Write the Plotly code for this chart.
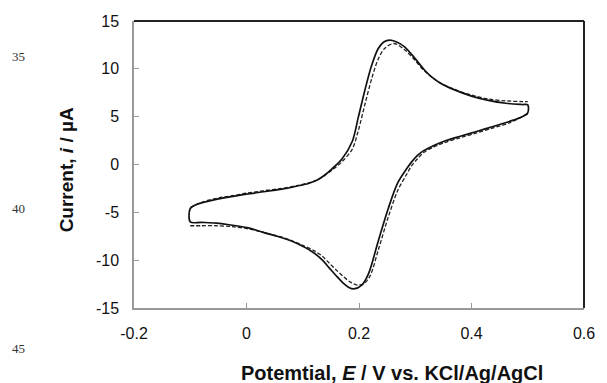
import plotly.graph_objects as go

# Solid curve (potential E / V, current i / uA)
solid_E = [-0.1, -0.1, -0.09, -0.077, -0.05, -0.024, 0.0, 0.03, 0.063, 0.09, 0.11, 0.125, 0.138, 0.153, 0.17,
           0.188, 0.199, 0.211, 0.2227, 0.234, 0.244, 0.2546, 0.265, 0.281, 0.298, 0.316, 0.33, 0.345, 0.37,
           0.4, 0.43, 0.461, 0.49, 0.5, 0.5,
           0.49, 0.467, 0.44, 0.409, 0.38, 0.35, 0.33, 0.315, 0.304, 0.294, 0.284, 0.269, 0.252,
           0.234, 0.217, 0.205, 0.1906, 0.182, 0.172, 0.159, 0.147, 0.135, 0.12, 0.1, 0.08, 0.063,
           0.03, 0.005, -0.025, -0.054, -0.08, -0.1]
solid_I = [-6.0, -4.6, -4.2, -3.97, -3.6, -3.34, -3.1, -2.85, -2.58, -2.25, -1.98, -1.65, -1.15, -0.4, 0.6,
           2.4, 5.0, 7.9, 10.4, 12.1, 12.8, 13.0, 12.85, 12.3, 11.2, 9.9, 9.1, 8.5, 7.8,
           7.15, 6.7, 6.4, 6.27, 6.24, 5.4,
           5.0, 4.5, 4.0, 3.45, 2.95, 2.4, 1.9, 1.45, 0.95, 0.3, -0.5, -1.9, -4.6,
           -8.05, -11.4, -12.6, -13.0, -12.85, -12.4, -11.6, -10.8, -10.0, -9.25, -8.55, -8.0, -7.65,
           -7.1, -6.65, -6.35, -6.13, -6.05, -6.0]

# Dashed curve (forward and reverse branches)
dash_E = [-0.1, -0.077, -0.05, -0.024, 0.0, 0.03, 0.063, 0.09, 0.11, 0.125, 0.138, 0.153, 0.17, 0.188, 0.199,
          0.211, 0.2227, 0.234, 0.245, 0.262, 0.281, 0.298, 0.316, 0.345, 0.37, 0.4, 0.43, 0.461,
          0.49, 0.5]
dash_I = [-4.5, -3.9, -3.5, -3.25, -3.0, -2.75, -2.5, -2.2, -1.93, -1.62, -1.2, -0.55, 0.3, 1.6, 3.6,
          6.4, 9.0, 11.0, 12.1, 12.65, 12.0, 11.0, 9.8, 8.5, 7.85, 7.25, 6.85, 6.65,
          6.58, 6.58]
dash2_E = [0.5, 0.467, 0.44, 0.409, 0.38, 0.35, 0.33, 0.315, 0.304, 0.294, 0.284, 0.269, 0.252,
           0.234, 0.22, 0.21, 0.197, 0.185, 0.172, 0.159, 0.147, 0.135, 0.12, 0.1, 0.08, 0.063,
           0.03, 0.005, -0.025, -0.054, -0.08, -0.1]
dash2_I = [5.3, 4.35, 3.85, 3.3, 2.8, 2.25, 1.75, 1.25, 0.6, -0.1, -1.1, -2.7, -5.5,
           -9.0, -11.6, -12.4, -12.6, -12.3, -11.7, -11.0, -10.3, -9.6, -9.0, -8.45, -7.95, -7.6,
           -7.1, -6.75, -6.5, -6.4, -6.4, -6.4]

x_ticks = [-0.2, 0, 0.2, 0.4, 0.6]
x_ticktext = ["-0.2", "0", "0.2", "0.4", "0.6"]
y_ticks = [-15, -10, -5, 0, 5, 10, 15]
y_ticktext = ["-15", "-10", "-5", "0", "5", "10", "15"]
line_numbers = ["35", "40", "45"]

dash_style = dict(color="#222", width=1.3, dash="4px,2px", shape="spline", smoothing=0.9)
fig = go.Figure()
fig.add_trace(go.Scatter(x=dash_E, y=dash_I, mode="lines", line=dash_style, hoverinfo="skip"))
fig.add_trace(go.Scatter(x=dash2_E, y=dash2_I, mode="lines", line=dash_style, hoverinfo="skip"))
fig.add_trace(go.Scatter(x=solid_E, y=solid_I, mode="lines", hoverinfo="skip",
                         line=dict(color="#111", width=1.7, shape="spline", smoothing=0.9)))

W, H = 607, 383
L, R, T, B = 134, 14, 21, 75
pw, ph = W - L - R, H - T - B
FONT = "Liberation Sans, Arial, sans-serif"

fig.update_layout(
    width=W, height=H, showlegend=False,
    margin=dict(l=L, r=R, t=T, b=B),
    paper_bgcolor="white", plot_bgcolor="white",
    font=dict(family=FONT, color="#111"),
    xaxis=dict(range=[-0.2, 0.6], tickvals=x_ticks, ticktext=x_ticktext, showgrid=False,
               zeroline=False, showline=True, linecolor="#999", linewidth=1.5,
               ticks="inside", ticklen=5, tickcolor="#999", tickwidth=1.2,
               tickfont=dict(size=16), ticklabelstandoff=10),
    yaxis=dict(range=[-15, 15], tickvals=y_ticks, ticktext=y_ticktext, showgrid=False,
               zeroline=False, showline=True, linecolor="#999", linewidth=1.5,
               ticks="inside", ticklen=5, tickcolor="#999", tickwidth=1.2,
               tickfont=dict(size=16), ticklabelstandoff=10),
    shapes=[
        dict(type="line", xref="paper", yref="paper", x0=0, x1=1, y0=1, y1=1,
             line=dict(color="#222", width=2)),
        dict(type="line", xref="paper", yref="paper", x0=1, x1=1, y0=0, y1=1,
             line=dict(color="#222", width=2)),
    ],
)

annotations = [
    dict(text="<b>Current, <i>i</i> / µA</b>", xref="paper", yref="paper",
         x=(65 - L) / pw, y=(T + ph - 170) / ph, textangle=-90, showarrow=False,
         font=dict(size=19, family=FONT, color="#111"),
         xanchor="center", yanchor="middle"),
    dict(text="<b>Potemtial, <i>E</i> / V vs. KCl/Ag/AgCl</b>", xref="paper", yref="paper",
         x=(397 - L) / pw, y=(T + ph - 373) / ph, showarrow=False,
         font=dict(size=20, family=FONT, color="#111"),
         xanchor="center", yanchor="middle"),
]
for lab, yy in zip(line_numbers, [56, 209, 348]):
    annotations.append(dict(text=lab, xref="paper", yref="paper",
                            x=(16 - L) / pw, y=(T + ph - yy) / ph, showarrow=False,
                            font=dict(size=13, family="Liberation Serif, Times New Roman, serif", color="#333"),
                            xanchor="center", yanchor="middle"))
fig.update_layout(annotations=annotations)

fig.write_html("out.html", config={"displayModeBar": False},
               post_script="document.body.style.margin='0';document.body.style.overflow='hidden';")
